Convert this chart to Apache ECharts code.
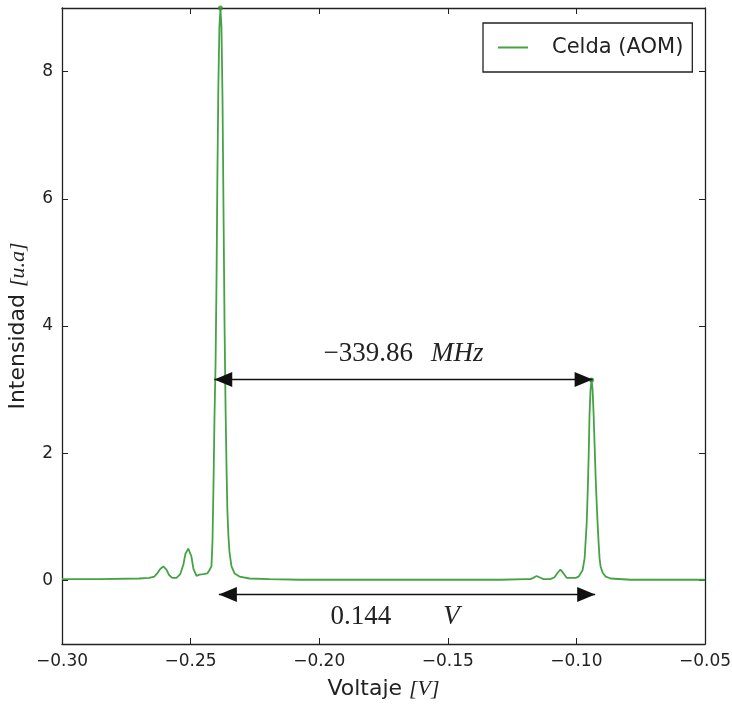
<!DOCTYPE html>
<html>
<head>
<meta charset="utf-8">
<script src="https://cdn.jsdelivr.net/npm/echarts@6/dist/echarts.min.js"></script>
<style>html,body{margin:0;padding:0;background:#fff}#c{width:732px;height:711px}</style>
</head>
<body>
<div id="c"></div>
<script>
// Voltage [V]
const voltage = [
-0.3000,-0.2856,-0.2700,-0.2661,-0.2641,-0.2630,-0.2618,-0.2606,-0.2594,-0.2583,
-0.2571,-0.2555,-0.2540,-0.2528,-0.2520,-0.2509,-0.2497,-0.2489,-0.2477,-0.2466,
-0.2450,-0.2435,-0.2427,-0.2419,-0.2415,-0.2411,-0.2407,-0.2403,-0.2399,-0.2396,
-0.2392,-0.2388,-0.2384,-0.2380,-0.2376,-0.2372,-0.2368,-0.2364,-0.2360,-0.2357,
-0.2353,-0.2349,-0.2341,-0.2329,-0.2310,-0.2271,-0.2193,-0.2076,-0.1686,-0.1296,
-0.1198,-0.1179,-0.1167,-0.1155,-0.1144,-0.1128,-0.1101,-0.1085,-0.1073,-0.1062,
-0.1050,-0.1038,-0.1030,-0.1023,-0.1015,-0.1003,-0.0991,-0.0984,-0.0976,-0.0968,
-0.0960,-0.0956,-0.0952,-0.0949,-0.0945,-0.0941,-0.0937,-0.0933,-0.0929,-0.0925,
-0.0921,-0.0917,-0.0913,-0.0910,-0.0906,-0.0898,-0.0886,-0.0867,-0.0789,-0.0500
];
// Intensidad [u.a]
const intensity = [
0.02,0.02,0.03,0.04,0.06,0.11,0.18,0.22,0.17,0.08,
0.04,0.04,0.10,0.25,0.42,0.50,0.38,0.18,0.07,0.09,
0.10,0.11,0.16,0.22,0.60,1.50,2.60,3.40,4.80,6.30,
7.80,8.70,9.00,8.70,7.60,5.80,4.00,2.70,1.70,1.10,
0.70,0.45,0.22,0.11,0.06,0.03,0.02,0.01,0.01,0.01,
0.02,0.02,0.04,0.07,0.05,0.02,0.02,0.05,0.12,0.17,
0.11,0.04,0.04,0.06,0.04,0.04,0.06,0.09,0.16,0.35,
0.90,1.40,2.00,2.60,3.00,3.15,3.00,2.60,2.10,1.60,
1.20,0.85,0.55,0.35,0.22,0.12,0.06,0.03,0.01,0.01
];
const peakV = [-0.2384, -0.0941];
const peakI = [9.0, 3.15];
const xTicks = [-0.30, -0.25, -0.20, -0.15, -0.10, -0.05];
const yTicks = [0, 2, 4, 6, 8];
// annotation arrows: [x1, x2, y]
const arrowFreq = [-0.2408, -0.0937, 3.16];
const arrowVolt = [-0.2390, -0.0927, -0.22];
const freqText = ['\u2212339.86', 'MHz'];
const voltText = ['0.144', 'V'];

const green = '#45a345';
const lineData = voltage.map((v, i) => [v, intensity[i]]);
const peakData = peakV.map((v, i) => [v, peakI[i]]);
const fmtX = v => v.toFixed(2).replace('-', '\u2212');

const sans = 'DejaVu Sans';
const serif = 'Liberation Serif';
const tickStyle = { show: true, inside: true, length: 6, lineStyle: { color: '#222', width: 1 } };
const lineSt = { show: true, onZero: false, lineStyle: { color: '#222', width: 1.3 } };

const chart = echarts.init(document.getElementById('c'), null, { renderer: 'canvas' });
chart.setOption({
  animation: false,
  backgroundColor: '#fff',
  grid: { left: 62, right: 27, top: 8, bottom: 67, containLabel: false, outerBoundsMode: 'none' },
  legend: {
    data: [{ name: 'Celda (AOM)', icon: 'rect', itemStyle: { color: green } }],
    left: 483, top: 23,
    padding: [12, 9, 12, 15],
    itemWidth: 30, itemHeight: 2,
    borderColor: '#222', borderWidth: 1.3, borderRadius: 0,
    backgroundColor: '#fff',
    textStyle: { fontFamily: sans, fontSize: 21, color: '#222', padding: [0, 0, 0, 19], lineHeight: 25 }
  },
  xAxis: [{
    type: 'value', min: -0.30, max: -0.05, interval: 0.05, position: 'bottom',
    axisLine: lineSt, axisTick: tickStyle, splitLine: { show: false },
    axisLabel: { formatter: fmtX, fontFamily: sans, fontSize: 17, color: '#222', margin: 9 },
    name: '{s|Voltaje }{m|[V]}', nameLocation: 'middle', nameGap: 34,
    nameTextStyle: { rich: {
      s: { fontFamily: sans, fontSize: 22, color: '#222' },
      m: { fontFamily: serif, fontStyle: 'italic', fontSize: 22, color: '#222' } } }
  }, {
    type: 'value', min: -0.30, max: -0.05, interval: 0.05, position: 'top',
    axisLine: lineSt, axisTick: tickStyle, axisLabel: { show: false }, splitLine: { show: false }
  }],
  yAxis: [{
    type: 'value', min: -1, max: 9, position: 'left',
    axisLine: lineSt,
    axisTick: Object.assign({}, tickStyle, { customValues: yTicks }),
    splitLine: { show: false },
    axisLabel: { customValues: yTicks, fontFamily: sans, fontSize: 17, color: '#222', margin: 9 },
    name: '{s|Intensidad }{m|[u.a]}', nameLocation: 'middle', nameGap: 33,
    nameTextStyle: { rich: {
      s: { fontFamily: sans, fontSize: 22, color: '#222' },
      m: { fontFamily: serif, fontStyle: 'italic', fontSize: 22, color: '#222' } } }
  }, {
    type: 'value', min: -1, max: 9, position: 'right',
    axisLine: lineSt,
    axisTick: Object.assign({}, tickStyle, { customValues: yTicks }),
    axisLabel: { show: false }, splitLine: { show: false }
  }],
  series: [{
    name: 'Celda (AOM)', type: 'line', data: lineData, symbol: 'none',
    lineStyle: { color: green, width: 1.8 }, itemStyle: { color: green },
    clip: true, z: 3
  }, {
    name: 'peaks', type: 'scatter', data: peakData, symbolSize: 5,
    itemStyle: { color: '#2f8f2f' }, z: 4, clip: false
  }, {
    name: 'arrows', type: 'line', data: [], symbol: 'none', z: 5,
    markLine: {
      silent: true, animation: false,
      symbol: ['triangle', 'triangle'], symbolSize: [15, 18],
      symbolOffset: [[0, 9], [0, 9]],
      lineStyle: { color: '#111', width: 1.3, type: 'solid' },
      data: [
        [{ coord: [arrowFreq[0], arrowFreq[2]], itemStyle: { color: '#000' } },
         { coord: [arrowFreq[1], arrowFreq[2]], itemStyle: { color: '#000' },
           label: { show: true, position: 'insideMiddleTop', distance: 12,
             formatter: '{r|' + freqText[0] + '}{i|' + freqText[1] + '}',
             rich: { r: { fontFamily: serif, fontSize: 27, color: '#222' },
                     i: { fontFamily: serif, fontStyle: 'italic', fontSize: 27, color: '#222', padding: [0, 0, 0, 18] } } } }],
        [{ coord: [arrowVolt[0], arrowVolt[2]], itemStyle: { color: '#000' } },
         { coord: [arrowVolt[1], arrowVolt[2]], itemStyle: { color: '#000' },
           label: { show: true, position: 'insideMiddleBottom', distance: 9,
             formatter: '{r|' + voltText[0] + '}{i|' + voltText[1] + '}',
             rich: { r: { fontFamily: serif, fontSize: 27, color: '#222' },
                     i: { fontFamily: serif, fontStyle: 'italic', fontSize: 27, color: '#222', padding: [0, 24, 0, 52] } } } }]
      ]
    }
  }]
});
</script>
</body>
</html>
